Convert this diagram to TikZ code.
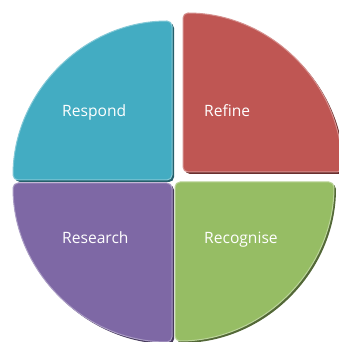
\documentclass[tikz,border=0pt]{standalone}
\usepackage{fontspec}
\setmainfont{Open Sans}
\usetikzlibrary{positioning}
\definecolor{tealq}{HTML}{43ACC2}
\definecolor{redq}{HTML}{BF5653}
\definecolor{purpleq}{HTML}{7E68A5}
\definecolor{greenq}{HTML}{96BD64}
\tikzset{
  quarter/.style={rounded corners=5pt},
  qtext/.style={text=white, font=\fontsize{15.6}{18}\selectfont, anchor=base west, inner sep=0pt}
}

\begin{document}
\begin{tikzpicture}[x=1pt,y=1pt]
    \useasboundingbox (0,0) rectangle (339,342);
    % corner x / corner y / first angle / colour
    \foreach \x/\y/\a/\c in {172/162/90/tealq, 183/170/0/redq, 172/159/180/purpleq, 175/160/270/greenq} {
        \fill[quarter, \c!55!black] (\x+2,\y-2) -- ++(\a:159) arc (\a:\a+90:159) -- cycle;
        \filldraw[quarter, fill=\c, draw=\c!65!white, line width=1pt] (\x,\y) -- ++(\a:159) arc (\a:\a+90:159) -- cycle;
    }

    \node[qtext] (respond) at (62,225.5) {Respond};
    \node[qtext] (refine) at (204,225.5) {Refine};
    \node[qtext] (research) at (62,98) {Research};
    \node[qtext] (recognise) at (204,98) {Recognise};
\end{tikzpicture}
\end{document}
